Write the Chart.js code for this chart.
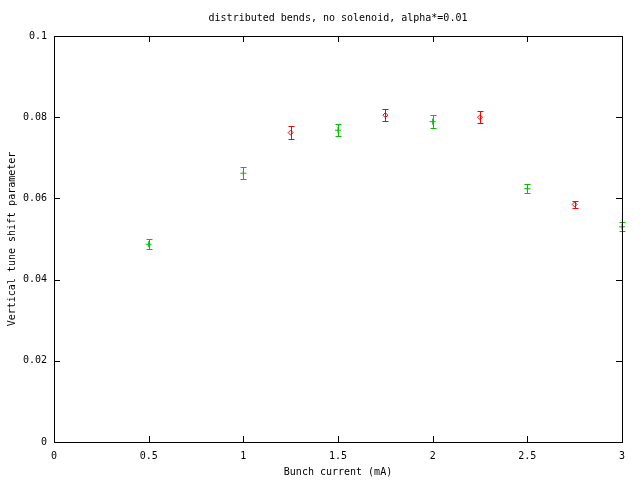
<!DOCTYPE html>
<html>
<head>
<meta charset="utf-8">
<script src="https://cdn.jsdelivr.net/npm/chart.js@4"></script>
<style>
  body { margin: 0; background: #fff; }
  canvas { display: block; }
</style>
</head>
<body>
<canvas id="myChart" width="640" height="480"></canvas>
<script>
// data
const xRed = [1.25, 1.75, 2.25, 2.75];
const yRed = [0.0762, 0.0805, 0.0800, 0.0585];
const errRed = [0.0016, 0.0015, 0.0015, 0.0009];

const xGreen = [0.5, 1.0, 1.5, 2.0, 2.5, 3.0];
const yGreen = [0.0487, 0.0662, 0.0768, 0.0789, 0.0624, 0.0530];
const errGreen = [0.0012, 0.0015, 0.0015, 0.0016, 0.0011, 0.0011];

const xTickLabels = ['0', '0.5', '1', '1.5', '2', '2.5', '3'];
const yTickLabels = ['0', '0.02', '0.04', '0.06', '0.08', '0.1'];

const FONT = { family: '"DejaVu Sans Mono", monospace', size: 10 };

function toPoints(xs, ys, errs) {
  return xs.map(function(x, i) { return { x: x, y: ys[i], err: errs[i] }; });
}

// gnuplot-like frame with inward ticks on all four sides
const framePlugin = {
  id: 'frame',
  afterDraw: function(chart) {
    const ctx = chart.ctx;
    const a = chart.chartArea;
    const xs = chart.scales.x, ys = chart.scales.y;
    ctx.save();
    ctx.strokeStyle = '#000';
    ctx.lineWidth = 1;
    ctx.strokeRect(a.left + 0.5, a.top + 0.5, a.right - a.left, a.bottom - a.top);
    ctx.beginPath();
    xs.ticks.forEach(function(t) {
      const px = Math.round(xs.getPixelForValue(t.value)) + 0.5;
      ctx.moveTo(px, a.bottom); ctx.lineTo(px, a.bottom - 6);
      ctx.moveTo(px, a.top); ctx.lineTo(px, a.top + 6);
    });
    ys.ticks.forEach(function(t) {
      const py = Math.round(ys.getPixelForValue(t.value)) + 0.5;
      ctx.moveTo(a.left, py); ctx.lineTo(a.left + 6, py);
      ctx.moveTo(a.right, py); ctx.lineTo(a.right - 6, py);
    });
    ctx.stroke();
    ctx.restore();
  }
};

// vertical error bars with caps
const errorBarPlugin = {
  id: 'errorBars',
  afterDatasetsDraw: function(chart) {
    const ctx = chart.ctx;
    const xs = chart.scales.x, ys = chart.scales.y;
    ctx.save();
    ctx.lineWidth = 1;
    chart.data.datasets.forEach(function(ds) {
      ctx.strokeStyle = ds.borderColor;
      ctx.beginPath();
      ds.data.forEach(function(p) {
        const px = Math.round(xs.getPixelForValue(p.x)) + 0.5;
        const top = Math.round(ys.getPixelForValue(p.y + p.err)) + 0.5;
        const bot = Math.round(ys.getPixelForValue(p.y - p.err)) + 0.5;
        ctx.moveTo(px, top); ctx.lineTo(px, bot);
        ctx.moveTo(px - 3, top); ctx.lineTo(px + 3, top);
        ctx.moveTo(px - 3, bot); ctx.lineTo(px + 3, bot);
      });
      ctx.stroke();
    });
    ctx.restore();
  }
};

let ctx = document.getElementById('myChart').getContext('2d');
let myChart = new Chart(ctx, {
  type: 'scatter',
  data: {
    datasets: [{
      label: 'red',
      data: toPoints(xRed, yRed, errRed),
      borderColor: '#ff0000',
      backgroundColor: 'rgba(0,0,0,0)',
      pointStyle: 'rectRot',
      pointRadius: 2.5,
      borderWidth: 1,
      clip: false
    }, {
      label: 'green',
      data: toPoints(xGreen, yGreen, errGreen),
      borderColor: '#00c000',
      backgroundColor: 'rgba(0,0,0,0)',
      pointStyle: 'cross',
      pointRadius: 3,
      borderWidth: 1,
      clip: false
    }]
  },
  options: {
    responsive: false,
    animation: false,
    layout: { padding: { left: 0, right: 18, top: 0, bottom: 0 } },
    plugins: {
      legend: { display: false },
      tooltip: { enabled: false },
      title: {
        display: true,
        fullSize: false,
        text: 'distributed bends, no solenoid, alpha*=0.01',
        color: '#000',
        font: { family: FONT.family, size: 10, weight: 'normal' },
        padding: { top: 12, bottom: 12 }
      }
    },
    scales: {
      x: {
        type: 'linear',
        min: 0,
        max: 3,
        border: { display: false },
        grid: { display: false, drawTicks: false },
        afterFit: function(scale) { scale.height = 38; },
        ticks: {
          stepSize: 0.5,
          padding: 8,
          color: '#000',
          font: FONT,
          maxRotation: 0,
          callback: function(v, i) { return xTickLabels[i]; }
        },
        title: {
          display: true,
          text: 'Bunch current (mA)',
          color: '#000',
          font: FONT,
          padding: { top: 4, bottom: 2 }
        }
      },
      y: {
        type: 'linear',
        min: 0,
        max: 0.1,
        border: { display: false },
        grid: { display: false, drawTicks: false },
        afterFit: function(scale) { scale.width = 54; },
        ticks: {
          stepSize: 0.02,
          padding: 7,
          color: '#000',
          font: FONT,
          callback: function(v, i) { return yTickLabels[i]; }
        },
        title: {
          display: true,
          text: 'Vertical tune shift parameter',
          color: '#000',
          font: FONT,
          padding: { top: 6, bottom: 0 }
        }
      }
    }
  },
  plugins: [framePlugin, errorBarPlugin]
});
</script>
</body>
</html>
